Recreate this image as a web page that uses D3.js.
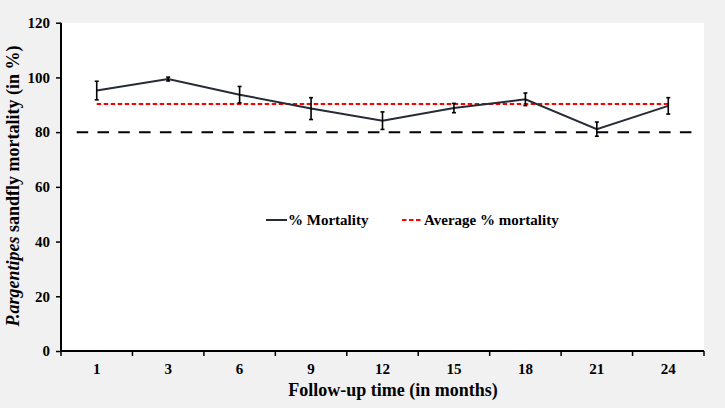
<!DOCTYPE html>
<html>
<head>
<meta charset="utf-8">
<script src="https://cdn.jsdelivr.net/npm/d3@7"></script>
<style>
  html, body { margin: 0; padding: 0; background: #f1f1f1; }
  svg { display: block; }
  text { font-family: "Liberation Serif", "Times New Roman", serif; font-weight: bold; fill: #000; }
</style>
</head>
<body>
<svg id="chart" width="725" height="408"></svg>
<script>
// ---- Data ----
const months = ["1", "3", "6", "9", "12", "15", "18", "21", "24"];
const mortality = [95.2, 99.4, 93.7, 88.6, 84.2, 88.8, 92.0, 81.1, 89.6];
const errors = [3.4, 0.7, 3.0, 4.0, 3.2, 1.7, 2.3, 2.6, 3.0];
const averageMortality = 90.3;
const thresholdValue = 80;
const yTicks = [0, 20, 40, 60, 80, 100, 120];

const svg = d3.select("#chart");
const W = 725, H = 408;
const m = { left: 61, right: 704, top: 22.7, bottom: 351 };

svg.append("rect").attr("width", W).attr("height", H).attr("fill", "#f1f1f1");
svg.append("rect")
  .attr("x", m.left).attr("y", m.top)
  .attr("width", m.right - m.left).attr("height", m.bottom - m.top)
  .attr("fill", "#ffffff");

const x = d3.scaleBand().domain(months).range([m.left, m.right]).padding(0);
const y = d3.scaleLinear().domain([0, 120]).range([m.bottom, m.top]);
const cx = d => x(d) + x.bandwidth() / 2;

// ---- threshold 80% dashed line ----
svg.append("line")
  .attr("x1", 76.7).attr("x2", 699)
  .attr("y1", y(thresholdValue)).attr("y2", y(thresholdValue))
  .attr("stroke", "#000").attr("stroke-width", 2)
  .attr("stroke-dasharray", "11.5,9.3");

// ---- average line ----
svg.append("line")
  .attr("x1", cx(months[0])).attr("x2", cx(months[months.length - 1]))
  .attr("y1", y(averageMortality)).attr("y2", y(averageMortality))
  .attr("stroke", "#ff0000").attr("stroke-width", 2)
  .attr("stroke-dasharray", "4.5,2.5");

// ---- mortality line ----
const data = months.map((mo, i) => ({ mo, v: mortality[i], e: errors[i] }));
svg.append("path")
  .datum(data)
  .attr("fill", "none")
  .attr("stroke", "#262b36")
  .attr("stroke-width", 2)
  .attr("d", d3.line().x(d => cx(d.mo)).y(d => y(d.v)));

// ---- error bars ----
const eb = svg.append("g").attr("stroke", "#000").attr("stroke-width", 1.6);
data.forEach(d => {
  const X = cx(d.mo);
  eb.append("line").attr("x1", X).attr("x2", X).attr("y1", y(d.v - d.e)).attr("y2", y(d.v + d.e));
  eb.append("line").attr("x1", X - 2).attr("x2", X + 2).attr("y1", y(d.v - d.e)).attr("y2", y(d.v - d.e));
  eb.append("line").attr("x1", X - 2).attr("x2", X + 2).attr("y1", y(d.v + d.e)).attr("y2", y(d.v + d.e));
});

// ---- axes ----
const yAxis = svg.append("g")
  .attr("transform", `translate(${m.left},0)`)
  .call(d3.axisLeft(y).tickValues(yTicks).tickSize(5).tickPadding(6).tickFormat(d3.format("d")));
yAxis.select(".domain").attr("stroke", "#000").attr("stroke-width", 2).attr("d", `M0,${m.top}V${m.bottom}`);
yAxis.selectAll(".tick line").attr("stroke", "#000").attr("stroke-width", 1.5);
yAxis.selectAll(".tick text").style("font-size", "15px").style("font-family", "Liberation Serif").style("font-weight", "bold").attr("fill", "#000");

const xAxis = svg.append("g")
  .attr("transform", `translate(0,${m.bottom})`)
  .call(d3.axisBottom(x).tickSize(0).tickPadding(12));
xAxis.select(".domain").attr("stroke", "#000").attr("stroke-width", 2).attr("d", `M${m.left},0H${m.right}`);
xAxis.selectAll(".tick text").style("font-size", "15px").style("font-family", "Liberation Serif").style("font-weight", "bold").attr("fill", "#000");
// boundary ticks
const edges = months.map(d => x(d)).concat([x(months[months.length - 1]) + x.bandwidth()]);
xAxis.selectAll(".edge").data(edges).join("line")
  .attr("x1", d => d).attr("x2", d => d).attr("y1", 0).attr("y2", 5)
  .attr("stroke", "#000").attr("stroke-width", 1.5);

// ---- axis titles ----
svg.append("text")
  .attr("x", 393).attr("y", 396)
  .attr("text-anchor", "middle")
  .style("font-size", "18px")
  .text("Follow-up time (in months)");

const yt = svg.append("text")
  .attr("transform", "translate(19,186) rotate(-90)")
  .attr("text-anchor", "middle")
  .style("font-size", "18px");
yt.append("tspan").style("font-style", "italic").text("P.argentipes");
yt.append("tspan").text(" sandfly mortality (in %)");

// ---- legend ----
const ly = 220;
svg.append("line").attr("x1", 266).attr("x2", 287).attr("y1", ly).attr("y2", ly)
  .attr("stroke", "#262b36").attr("stroke-width", 2);
svg.append("text").attr("x", 288).attr("y", ly + 5).style("font-size", "15px").text("% Mortality");
svg.append("line").attr("x1", 402).attr("x2", 423).attr("y1", ly).attr("y2", ly)
  .attr("stroke", "#ff0000").attr("stroke-width", 2).attr("stroke-dasharray", "4.5,2.5");
svg.append("text").attr("x", 424).attr("y", ly + 5).style("font-size", "15px").text("Average % mortality");
</script>
</body>
</html>
